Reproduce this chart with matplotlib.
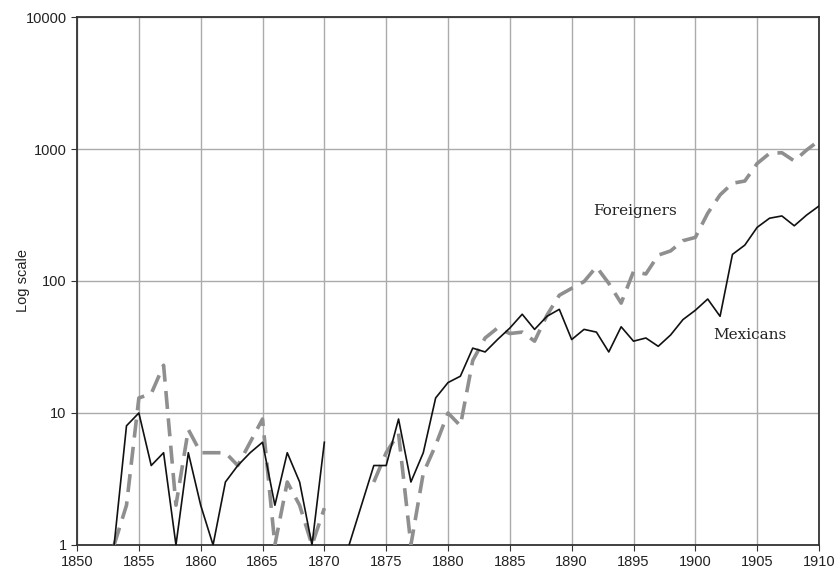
import matplotlib
matplotlib.use("Agg")
import matplotlib.pyplot as plt
import matplotlib.ticker as mticker
import numpy as np

# yearly counts (NaN = no value / zero on log scale)
years = np.arange(1853, 1911)

mexicans = [1, 8, 10, 4, 5, 1, 5, 2, 1, 3,
            4, 5, 6, 2, 5, 3, 1, 6, np.nan, 1,
            2, 4, 4, 9, 3, 5, 13, 17, 19, 31,
            29, 36, 44, 56, 43, 54, 61, 36, 43, 41,
            29, 45, 35, 37, 32, 39, 51, 60, 73, 54,
            159, 187, 255, 299, 311, 262, 316, 370]

foreigners = [1, 2, 13, 14, 23, 2, 7.5, 5, 5, 5,
              4, 6, 9, 1, 3, 2, 1, 1.9, np.nan, np.nan,
              np.nan, 3, 5, 7, 1, 3.5, 5.7, 10, 8, 25,
              37, 44, 40, 41, 35, 55, 78, 88, 99, 128,
              96, 68, 118, 113, 157, 169, 202, 214, 326, 449,
              550, 572, 777, 927, 937, 812, 983, 1156]

y_ticks = [1, 10, 100, 1000, 10000]
x_ticks = np.arange(1850, 1911, 5)

plt.rcParams['font.family'] = ['Liberation Sans', 'DejaVu Sans']

fig = plt.figure(figsize=(8.4, 5.77), dpi=100)
ax = fig.add_axes([0.0917, 0.0555, 0.8833, 0.915])

ax.plot(years, foreigners, color='#8f8f8f', linewidth=2.6,
        dashes=(5, 2.6), solid_capstyle='butt', zorder=3)
ax.plot(years, mexicans, color='#111111', linewidth=1.2, zorder=4)

ax.set_yscale('log')
ax.set_ylim(1, 10000)
ax.set_xlim(1850, 1910)
ax.set_yticks(y_ticks)
ax.yaxis.set_major_formatter(mticker.FuncFormatter(lambda v, p: f"{int(v)}"))
ax.yaxis.set_minor_locator(mticker.NullLocator())
ax.set_xticks(x_ticks)

ax.grid(True, color='#ababab', linewidth=1.0)
ax.set_axisbelow(True)
for s in ax.spines.values():
    s.set_color('#333333')
    s.set_linewidth(1.3)

ax.tick_params(axis='both', labelsize=10.5, colors='#333333',
               labelcolor='#222222', length=4, width=0.8)

ax.set_ylabel("Log scale", fontsize=10.5, color='#222222')
ax.yaxis.set_label_coords(-0.063, 0.5)

ax.text(1895.1, 340, "Foreigners", family='DejaVu Serif', fontsize=11,
        ha='center', va='center', color='#222222')
ax.text(1904.4, 39, "Mexicans", family='DejaVu Serif', fontsize=11,
        ha='center', va='center', color='#222222')

fig.savefig("out.png", dpi=100)
